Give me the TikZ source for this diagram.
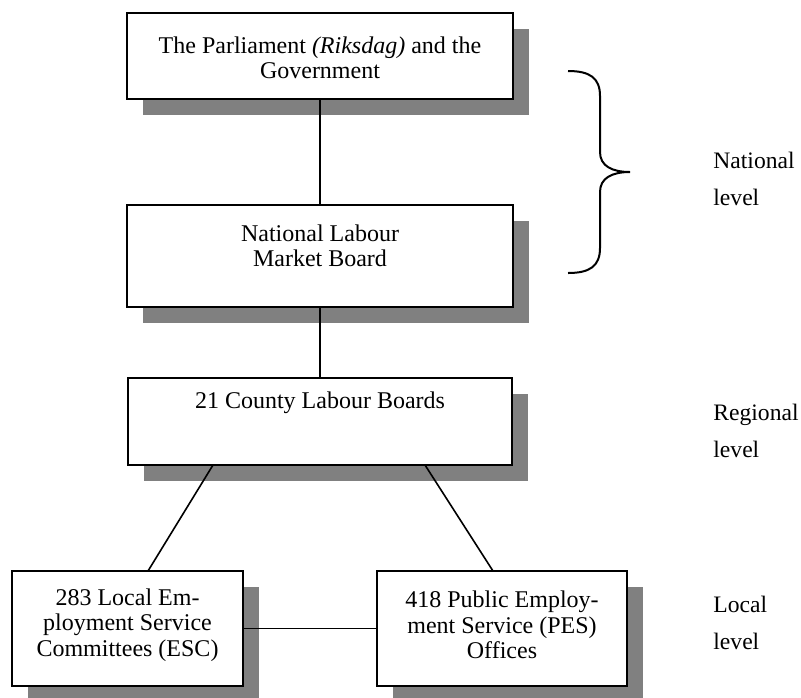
\documentclass[tikz,border=0pt]{standalone}
\usepackage{fontspec}
\setmainfont{Liberation Serif}
\usetikzlibrary{calc,backgrounds}
\definecolor{shadowgray}{HTML}{808080}
\begin{document}
\begin{tikzpicture}[x=0.5pt,y=-0.5pt,
  box/.style={draw=black, line width=1pt, fill=white, inner sep=0pt, outer sep=0pt},
  txt/.style={font=\fontsize{12}{12.7}\selectfont, align=center, inner sep=0pt},
  side/.style={font=\fontsize{11.8}{18.5}\selectfont, align=left, anchor=west, inner sep=0pt},
  conn/.style={line width=0.8pt},
  bracestyle/.style={line width=1pt}]
\useasboundingbox (0,0) rectangle (801,697);

% boxes
\node[box, minimum width=193pt, minimum height=43pt]   (A) at (320,56) {};
\node[box, minimum width=193pt, minimum height=51pt]   (B) at (320,256) {};
\node[box, minimum width=192pt, minimum height=43.5pt] (C) at (320,421.5) {};
\node[box, minimum width=115.5pt, minimum height=57.5pt] (D) at (127.5,628.5) {};
\node[box, minimum width=125pt, minimum height=57.5pt]   (E) at (502,628.5) {};

% shadows
\begin{scope}[on background layer]
  \foreach \n in {A,B,C,D,E}
    \fill[shadowgray] ($(\n.south west)+(16,16)$) rectangle ($(\n.north east)+(16,16)$);
\end{scope}

% texts
\node[txt] (tA) at (320,58) {The Parliament \textit{(Riksdag)} and the\\Government};
\node[txt] (tB) at (320,246) {National Labour\\Market Board};
\node[txt] (tC) at (320,403) {21 County Labour Boards};
\node[txt] (tD) at (127.5,625) {283 Local Em-\\ployment Service\\Committees (ESC)};
\node[txt] (tE) at (502,625) {418 Public Employ-\\ment Service (PES)\\Offices};

% connectors
\draw[conn] (A) -- (B);
\draw[conn] (B) -- (C);
\draw[conn] ([xshift=-53.5pt]C.south) -- ([xshift=10.25pt]D.north);
\draw[conn] ([xshift=52.5pt]C.south) -- ([xshift=-4.5pt]E.north);
\draw[conn] (D) -- (E);

% brace
\draw[bracestyle] (568,71) .. controls (590,71) and (600,78) .. (600,96)
  -- (600,152) .. controls (600,166) and (612,172) .. (630,172)
  .. controls (612,172) and (600,178) .. (600,192)
  -- (600,248) .. controls (600,266) and (590,273) .. (568,273);

% level labels
\node[side] (nat) at (713,178.5) {National\\level};
\node[side] (reg) at (713,431) {Regional\\level};
\node[side] (loc) at (713,622.5) {Local\\level};
\end{tikzpicture}
\end{document}
